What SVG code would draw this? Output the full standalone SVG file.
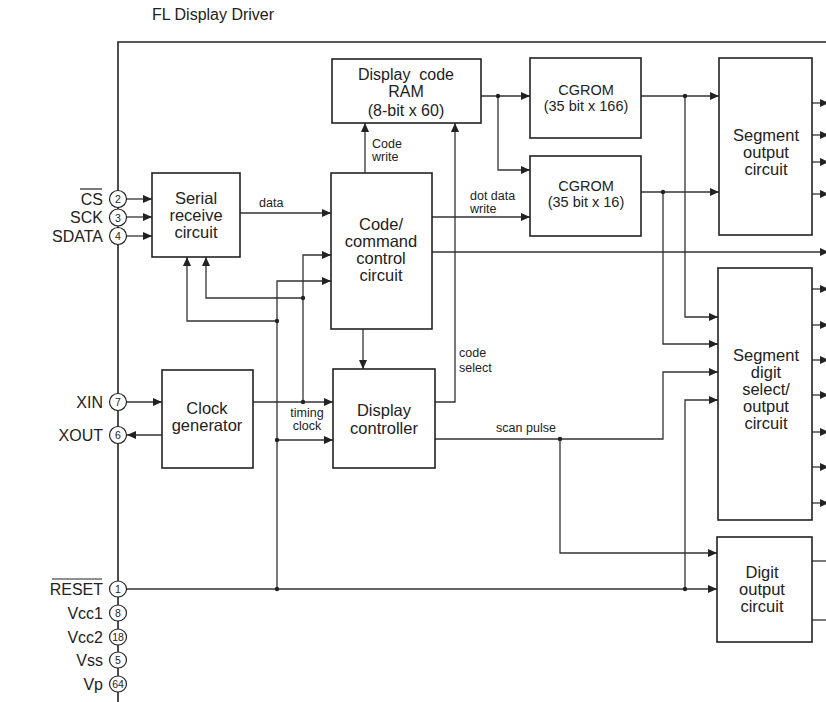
<svg xmlns="http://www.w3.org/2000/svg" width="826" height="702" viewBox="0 0 826 702">
<defs>
<marker id="ah" markerWidth="9" markerHeight="8" refX="9" refY="4" orient="auto" markerUnits="userSpaceOnUse">
<path d="M0,0 L9,4 L0,8 z" fill="#222"/>
</marker>
<style>
text{font-family:"Liberation Sans",Arial,sans-serif;fill:#222}
.t{font-size:16.5px;text-anchor:middle}
.r{font-size:16px;text-anchor:middle}
.c{font-size:14.5px;text-anchor:middle}
.s{font-size:12.5px}
.p{font-size:16px;text-anchor:end}
.n{font-size:10.5px;text-anchor:middle}
.title{font-size:16px}
.box{fill:#fff;stroke:#222;stroke-width:1.6}
.pin{fill:#fff;stroke:#222;stroke-width:1.2}
.w{fill:none;stroke:#333;stroke-width:1.3}
.a{marker-end:url(#ah)}
.d{fill:#222}
.frame{fill:none;stroke:#222;stroke-width:1.6}
</style>
</defs>
<rect width="826" height="702" fill="#fff"/>
<text class="title" x="152" y="20">FL Display Driver</text>
<path class="frame" d="M118,702 V42 H830"/>

<g id="connectors">
<line class="w a" x1="126" y1="199" x2="152" y2="199"/>
<line class="w a" x1="126" y1="217" x2="152" y2="217"/>
<line class="w a" x1="126" y1="236" x2="152" y2="236"/>
<line class="w a" x1="240" y1="213" x2="331" y2="213"/>
<line class="w a" x1="126" y1="402" x2="162" y2="402"/>
<line class="w a" x1="162" y1="435" x2="127" y2="435"/>
<line class="w a" x1="253" y1="402" x2="333" y2="402"/>
<path class="w a" d="M303,402 V255 H331"/>
<path class="w a" d="M303,298 H206 V257"/>
<path class="w a" d="M277,589 V281 H331"/>
<path class="w a" d="M277,321 H187 V257"/>
<line class="w a" x1="277" y1="440" x2="333" y2="440"/>
<line class="w a" x1="127" y1="589" x2="717" y2="589"/>
<line class="w a" x1="365" y1="173" x2="365" y2="123"/>
<line class="w a" x1="363" y1="329" x2="363" y2="369"/>
<path class="w a" d="M435,402 H455 V123"/>
<line class="w a" x1="432" y1="217" x2="530" y2="217"/>
<line class="w a" x1="432" y1="252" x2="829" y2="252"/>
<line class="w a" x1="481" y1="96" x2="530" y2="96"/>
<path class="w a" d="M498,96 V170 H530"/>
<line class="w a" x1="641" y1="96" x2="719" y2="96"/>
<path class="w a" d="M685,96 V317 H718"/>
<line class="w a" x1="641" y1="192" x2="719" y2="192"/>
<path class="w a" d="M663,192 V344 H718"/>
<path class="w a" d="M435,439 H663 V372 H718"/>
<path class="w a" d="M560,439 V553 H717"/>
<path class="w a" d="M685,589 V400 H718"/>
<line class="w a" x1="812" y1="103" x2="829" y2="103"/>
<line class="w a" x1="812" y1="135" x2="829" y2="135"/>
<line class="w a" x1="812" y1="162" x2="829" y2="162"/>
<line class="w a" x1="812" y1="194" x2="829" y2="194"/>
<line class="w a" x1="812" y1="289" x2="829" y2="289"/>
<line class="w a" x1="812" y1="325" x2="829" y2="325"/>
<line class="w a" x1="812" y1="360" x2="829" y2="360"/>
<line class="w a" x1="812" y1="395" x2="829" y2="395"/>
<line class="w a" x1="812" y1="432" x2="829" y2="432"/>
<line class="w a" x1="812" y1="467" x2="829" y2="467"/>
<line class="w a" x1="812" y1="503" x2="829" y2="503"/>
<line class="w" x1="812" y1="561" x2="826" y2="561"/>
<line class="w" x1="812" y1="620" x2="826" y2="620"/>
<circle class="d" cx="303" cy="402" r="2.2"/>
<circle class="d" cx="303" cy="298" r="2.2"/>
<circle class="d" cx="277" cy="321" r="2.2"/>
<circle class="d" cx="277" cy="440" r="2.2"/>
<circle class="d" cx="277" cy="589" r="2.2"/>
<circle class="d" cx="685" cy="589" r="2.2"/>
<circle class="d" cx="498" cy="96" r="2.2"/>
<circle class="d" cx="685" cy="96" r="2.2"/>
<circle class="d" cx="663" cy="192" r="2.2"/>
<circle class="d" cx="560" cy="439" r="2.2"/>
<text class="s" x="259" y="207">data</text>
<text class="s" x="372" y="148">Code</text>
<text class="s" x="372" y="161">write</text>
<text class="s" x="470" y="200">dot data</text>
<text class="s" x="470" y="213">write</text>
<text class="s" x="459" y="357">code</text>
<text class="s" x="459" y="372">select</text>
<text class="s" x="307" y="417" text-anchor="middle">timing</text>
<text class="s" x="307" y="430" text-anchor="middle">clock</text>
<text class="s" x="526" y="432" text-anchor="middle">scan pulse</text>
</g>

<g id="pins">
<g id="pin-cs"><text class="p" x="103" y="205">CS</text><line x1="80" y1="189" x2="102" y2="189" stroke="#222" stroke-width="1.2"/><ellipse class="pin" cx="118" cy="199" rx="8.5" ry="8.5"/><text class="n" x="118" y="203">2</text></g>
<g id="pin-sck"><text class="p" x="103" y="223">SCK</text><ellipse class="pin" cx="118" cy="217.5" rx="8.5" ry="8.5"/><text class="n" x="118" y="221.5">3</text></g>
<g id="pin-sdata"><text class="p" x="103" y="242">SDATA</text><ellipse class="pin" cx="118" cy="236" rx="8.5" ry="8.5"/><text class="n" x="118" y="240">4</text></g>
<g id="pin-xin"><text class="p" x="103" y="408">XIN</text><ellipse class="pin" cx="118" cy="402" rx="8.5" ry="8.5"/><text class="n" x="118" y="406">7</text></g>
<g id="pin-xout"><text class="p" x="103" y="441">XOUT</text><ellipse class="pin" cx="118" cy="435" rx="8.5" ry="8.5"/><text class="n" x="118" y="439">6</text></g>
<g id="pin-reset"><text class="p" x="103" y="595">RESET</text><line x1="52" y1="579" x2="102" y2="579" stroke="#222" stroke-width="1.2"/><ellipse class="pin" cx="118" cy="589" rx="8.5" ry="8"/><text class="n" x="118" y="593">1</text></g>
<g id="pin-vcc1"><text class="p" x="103" y="619">Vcc1</text><ellipse class="pin" cx="118" cy="613" rx="8.5" ry="8"/><text class="n" x="118" y="617">8</text></g>
<g id="pin-vcc2"><text class="p" x="103" y="643">Vcc2</text><ellipse class="pin" cx="118" cy="637" rx="8.5" ry="8"/><text class="n" x="118" y="641">18</text></g>
<g id="pin-vss"><text class="p" x="103" y="666">Vss</text><ellipse class="pin" cx="118" cy="660" rx="8.5" ry="8"/><text class="n" x="118" y="664">5</text></g>
<g id="pin-vp"><text class="p" x="103" y="690">Vp</text><ellipse class="pin" cx="118" cy="684" rx="8.5" ry="8"/><text class="n" x="118" y="688">64</text></g>
</g>

<g id="serial">
<rect class="box" x="152" y="173" width="88" height="84"/>
<text class="t" x="196" y="204">Serial</text>
<text class="t" x="196" y="221">receive</text>
<text class="t" x="196" y="238">circuit</text>
</g>
<g id="clock">
<rect class="box" x="162" y="370" width="91" height="98"/>
<text class="t" x="207" y="414">Clock</text>
<text class="t" x="207" y="431">generator</text>
</g>
<g id="codecmd">
<rect class="box" x="331" y="173" width="101" height="156"/>
<text class="t" x="381" y="230">Code/</text>
<text class="t" x="381" y="247">command</text>
<text class="t" x="381" y="264">control</text>
<text class="t" x="381" y="281">circuit</text>
</g>
<g id="dispctrl">
<rect class="box" x="333" y="369" width="102" height="99"/>
<text class="t" x="384" y="416">Display</text>
<text class="t" x="384" y="434">controller</text>
</g>
<g id="ram">
<rect class="box" x="332" y="59" width="149" height="64"/>
<text class="r" x="406" y="80" xml:space="preserve">Display  code</text>
<text class="r" x="406" y="97">RAM</text>
<text class="r" x="406" y="116">(8-bit x 60)</text>
</g>
<g id="cgrom166">
<rect class="box" x="530" y="58" width="111" height="80"/>
<text class="c" x="586" y="95">CGROM</text>
<text class="c" x="586" y="111">(35 bit x 166)</text>
</g>
<g id="cgrom16">
<rect class="box" x="530" y="156" width="111" height="80"/>
<text class="c" x="586" y="191">CGROM</text>
<text class="c" x="586" y="207">(35 bit x 16)</text>
</g>
<g id="segout">
<rect class="box" x="719" y="58" width="93" height="177"/>
<text class="t" x="766" y="141">Segment</text>
<text class="t" x="766" y="158">output</text>
<text class="t" x="766" y="175">circuit</text>
</g>
<g id="segdigit">
<rect class="box" x="718" y="268" width="94" height="252"/>
<text class="t" x="766" y="361">Segment</text>
<text class="t" x="766" y="378">digit</text>
<text class="t" x="766" y="395">select/</text>
<text class="t" x="766" y="412">output</text>
<text class="t" x="766" y="429">circuit</text>
</g>
<g id="digitout">
<rect class="box" x="717" y="537" width="95" height="105"/>
<text class="t" x="762" y="578">Digit</text>
<text class="t" x="762" y="595">output</text>
<text class="t" x="762" y="612">circuit</text>
</g>
</svg>
